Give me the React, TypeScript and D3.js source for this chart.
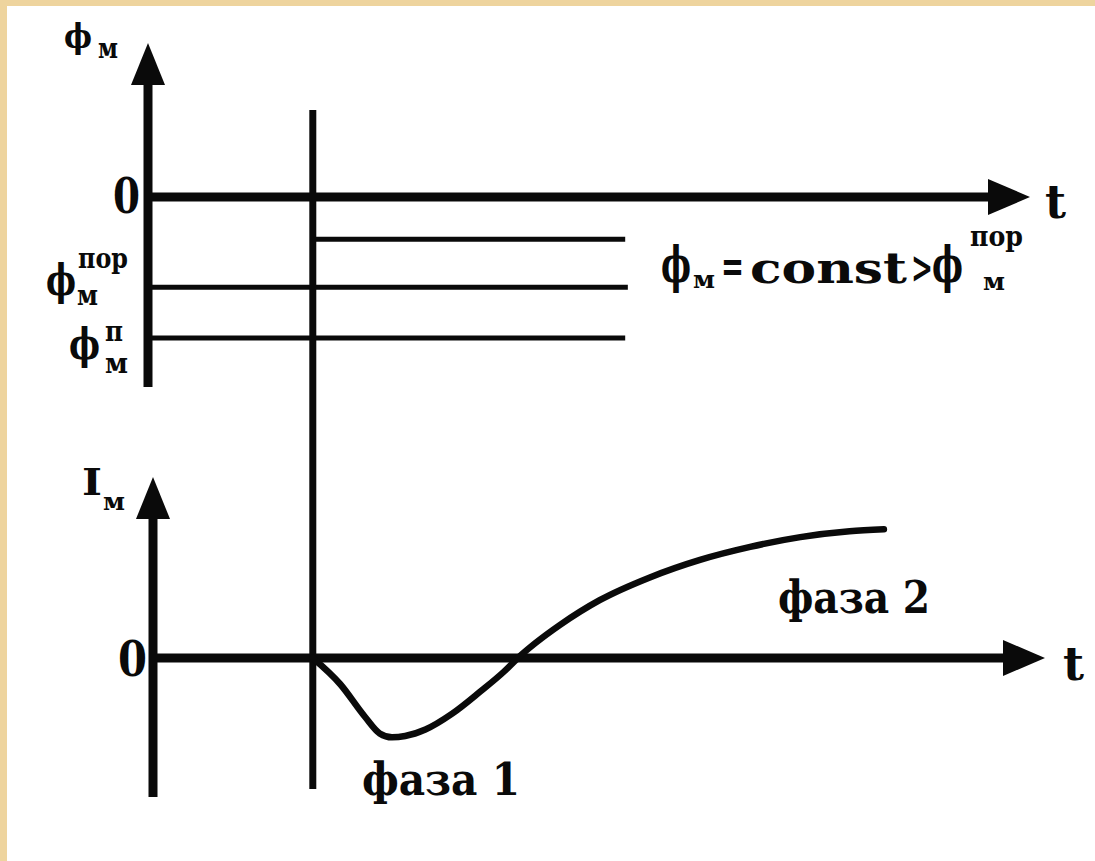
import React from "react";
import * as d3 from "d3";

// ---- data ----
// time of switching (vertical line), in t units
const tSwitch = 18.5;
// horizontal membrane-potential levels (top panel)
const phiLevelNames = ["const", "пор", "п"];
const phiLevelValues = [-30, -64, -100];
const phiLevelStart = [18.5, 0, 0];
const phiLevelEnd = [54, 54.3, 54];
// membrane current curve (bottom panel)
const curveT = [18.5, 21.6, 24.4, 26.1, 27.5, 29.0, 31.3, 34.3, 37.5, 40.3, 41.8, 43.8, 46.6, 51.1, 56.8, 62.5, 68.2, 73.9, 79.5, 83.4];
const curveI = [0, -2.0, -4.5, -5.8, -6.1, -6.0, -5.5, -4.3, -2.6, -1.0, 0, 1.15, 2.55, 4.45, 6.2, 7.55, 8.55, 9.3, 9.75, 9.9];

const W = 1095;
const H = 861;
const FONT = "'DejaVu Serif', 'Liberation Serif', serif";
const PHI = "ϕ";

type Part = { s: string; x: number; y: number; size: number; len?: number };

export default function App() {
  const x = d3.scaleLinear().domain([0, 100]).range([150, 1030]);
  const yPhi = d3.scaleLinear().domain([0, -100]).range([197, 338]);
  const yI = d3.scaleLinear().domain([0, 10]).range([658, 528]);

  const line = d3.line<[number, number]>().x((d) => d[0]).y((d) => d[1]);
  const curve = d3
    .line<number>()
    .x((_, i) => x(curveT[i]))
    .y((d) => yI(d))
    .curve(d3.curveMonotoneX);

  const topAxisX = 148;
  const botAxisX = 153;
  const ink = "#0a0a0a";

  const arrowUp = (cx: number, tip: number) =>
    `M${cx},${tip} L${cx - 17},${tip + 42} L${cx + 17},${tip + 42} Z`;
  const arrowRight = (tip: number, cy: number) =>
    `M${tip},${cy} L${tip - 42},${cy - 18} L${tip - 42},${cy + 18} Z`;

  const label = (key: string, parts: Part[]) => (
    <text key={key} fontFamily={FONT} fontWeight="bold" fill={ink}>
      {parts.map((p, i) => (
        <tspan
          key={i}
          x={p.x}
          y={p.y}
          fontSize={p.size}
          {...(p.len ? { textLength: p.len, lengthAdjust: "spacingAndGlyphs" } : {})}
        >
          {p.s}
        </tspan>
      ))}
    </text>
  );

  return (
    <div style={{ position: "absolute", left: 0, top: 0 }}>
      <svg width={W} height={H} viewBox={`0 0 ${W} ${H}`} style={{ display: "block" }}>
        <rect x={0} y={0} width={W} height={H} fill="#ffffff" />
        <rect x={0} y={0} width={W} height={6} fill="#eed49e" />
        <rect x={0} y={0} width={7} height={H} fill="#eed49e" />

        {/* ---- top panel ---- */}
        <path d={line([[topAxisX, 387], [topAxisX, 80]]) || ""} stroke={ink} strokeWidth={9} fill="none" />
        <path d={arrowUp(topAxisX, 43)} fill={ink} />
        <path d={line([[topAxisX, yPhi(0)], [1000, yPhi(0)]]) || ""} stroke={ink} strokeWidth={9} fill="none" />
        <path d={arrowRight(1030, yPhi(0))} fill={ink} />
        {phiLevelNames.map((n, i) => (
          <path
            key={n}
            d={line([[i === 0 ? x(phiLevelStart[i]) : topAxisX, yPhi(phiLevelValues[i])], [x(phiLevelEnd[i]), yPhi(phiLevelValues[i])]]) || ""}
            stroke={ink}
            strokeWidth={5}
            fill="none"
          />
        ))}

        {/* switching vertical line */}
        <path d={line([[x(tSwitch), 110], [x(tSwitch), 789]]) || ""} stroke={ink} strokeWidth={7} fill="none" />

        {/* ---- bottom panel ---- */}
        <path d={line([[botAxisX, 797], [botAxisX, 512]]) || ""} stroke={ink} strokeWidth={9} fill="none" />
        <path d={arrowUp(botAxisX, 477)} fill={ink} />
        <path d={line([[botAxisX, yI(0)], [1015, yI(0)]]) || ""} stroke={ink} strokeWidth={9} fill="none" />
        <path d={arrowRight(1045, yI(0))} fill={ink} />
        <path d={curve(curveI) || ""} stroke={ink} strokeWidth={6.5} fill="none" strokeLinecap="round" strokeLinejoin="round" />

        {/* ---- labels ---- */}
        {label("phiTop", [
          { s: PHI, x: 64, y: 48, size: 34, len: 28 },
          { s: "м", x: 98, y: 58, size: 27, len: 20 },
        ])}
        {label("zeroTop", [{ s: "0", x: 113, y: 213, size: 48, len: 27 }])}
        {label("tTop", [{ s: "t", x: 1045, y: 218, size: 46, len: 21 }])}

        {label("phiPor", [
          { s: PHI, x: 46, y: 295, size: 42, len: 30 },
          { s: "пор", x: 78, y: 268, size: 27, len: 50 },
          { s: "м", x: 77, y: 305, size: 27, len: 21 },
        ])}
        {label("phiP", [
          { s: PHI, x: 69, y: 359, size: 42, len: 31 },
          { s: "п", x: 105, y: 341, size: 27, len: 18 },
          { s: "м", x: 105, y: 373, size: 27, len: 23 },
        ])}

        {label("formula", [
          { s: PHI, x: 661, y: 282, size: 50, len: 30 },
          { s: "м", x: 693, y: 288, size: 24, len: 22 },
          { s: "=", x: 721, y: 282, size: 44, len: 23 },
          { s: "const", x: 750, y: 283, size: 42, len: 157 },
          { s: ">", x: 911, y: 283, size: 44, len: 22 },
          { s: PHI, x: 932, y: 282, size: 50, len: 31 },
          { s: "пор", x: 970, y: 246, size: 27, len: 53 },
          { s: "м", x: 983, y: 290, size: 24, len: 22 },
        ])}

        {label("iLabel", [
          { s: "I", x: 82, y: 495, size: 38, len: 20 },
          { s: "м", x: 103, y: 510, size: 25, len: 22 },
        ])}
        {label("zeroBot", [{ s: "0", x: 118, y: 676, size: 48, len: 29 }])}
        {label("tBot", [{ s: "t", x: 1063, y: 680, size: 46, len: 21 }])}

        {label("phase2", [{ s: "фаза 2", x: 778, y: 613, size: 44, len: 152 }])}
        {label("phase1", [{ s: "фаза 1", x: 362, y: 795, size: 44, len: 158 }])}
      </svg>
    </div>
  );
}
